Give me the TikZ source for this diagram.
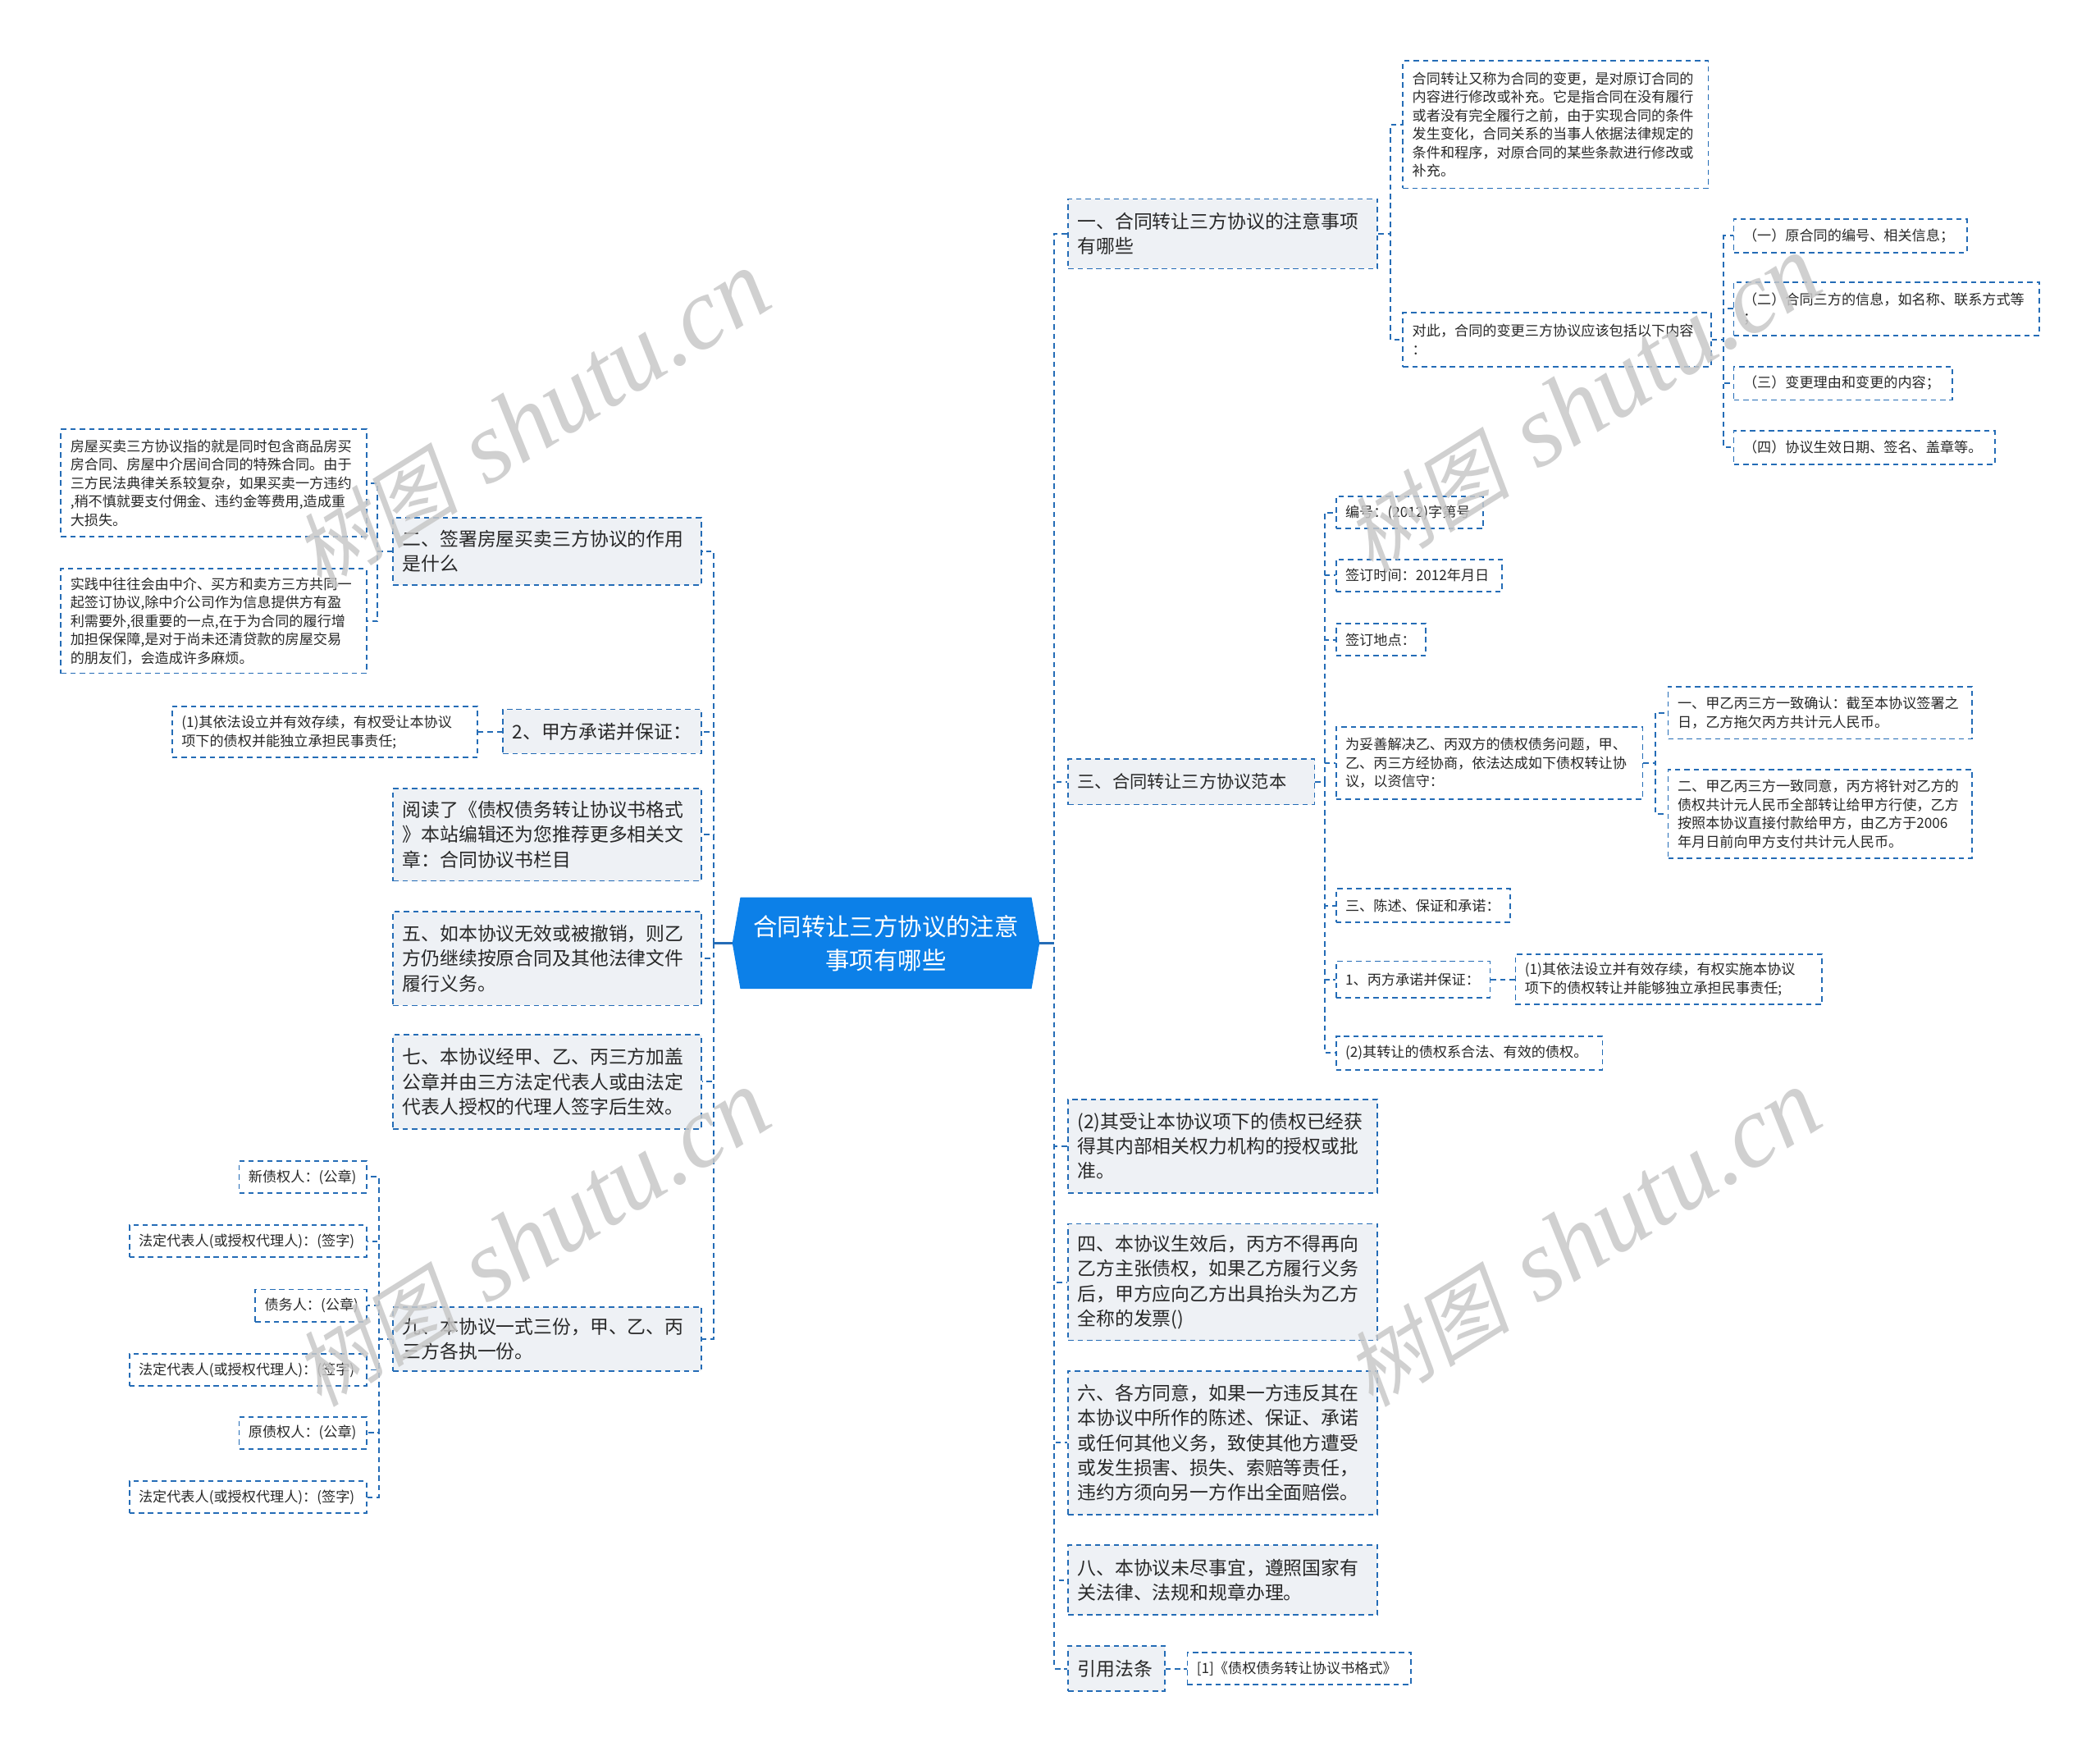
\documentclass[tikz,border=0pt]{standalone}
\usepackage{fontspec}
\newfontfamily\cjk{Noto Sans CJK SC}
\newfontfamily\cjkslant[FakeSlant=0.2]{Noto Sans CJK SC}
\newfontfamily\wmserif{Liberation Serif}
\usetikzlibrary{calc}
\definecolor{lineblue}{RGB}{36,108,182}
\definecolor{boxgray}{RGB}{238,241,245}
\definecolor{centerblue}{RGB}{12,128,232}
\definecolor{txt}{RGB}{40,40,40}
\definecolor{wm}{RGB}{200,200,200}
\newcommand\bx[7]{%
  \pgfmathsetmacro\tw{#5-14}%
  \node[#1, minimum width=#5pt, minimum height=#6pt, text width=\tw pt] (#2) at (#3,#4) {#7};}
\begin{document}
\begin{tikzpicture}[x=1pt,y=-1pt,
  conn/.style={draw=lineblue, line width=1.2pt, dash pattern=on 4pt off 3pt},
  stub/.style={draw=lineblue, line width=1.6pt},
  lvl/.style={draw=lineblue, line width=1.1pt, dash pattern=on 4pt off 3pt, fill=boxgray, text=txt,
    font=\cjk\fontsize{14}{18.6}\selectfont, inner xsep=7pt, inner ysep=0pt, align=left, anchor=north west},
  leaf/.style={lvl, fill=white, font=\cjk\fontsize{10.5}{13.8}\selectfont},
  wmk/.style={text=wm, opacity=0.85, rotate=32, inner sep=0pt}
]
\useasboundingbox (0,0) rectangle (1568,1307);
\fill[white] (0,0) rectangle (1568,1307);

% ---------- centre ----------
\node[minimum width=217pt, minimum height=68pt, inner sep=0pt] (C) at (661.5,704) {};
\coordinate (CL) at ($(C.west)+(-6,0)$);
\coordinate (CR) at ($(C.east)+(6,0)$);

% ---------- right side ----------
\bx{lvl}{R1}{797}{148}{231}{52}{一、合同转让三方协议的注意事项\\有哪些}
\bx{leaf}{R1a}{1047}{45}{228}{95}{合同转让又称为合同的变更，是对原订合同的\\内容进行修改或补充。它是指合同在没有履行\\或者没有完全履行之前，由于实现合同的条件\\发生变化，合同关系的当事人依据法律规定的\\条件和程序，对原合同的某些条款进行修改或\\补充。}
\bx{leaf}{R1b}{1047}{233}{230}{40}{对此，合同的变更三方协议应该包括以下内容\\：}
\bx{leaf}{R1b1}{1294}{163}{174}{25}{（一）原合同的编号、相关信息；}
\bx{leaf}{R1b2}{1294}{210}{228}{40}{（二）合同三方的信息，如名称、联系方式等\\；}
\bx{leaf}{R1b3}{1294}{273}{163}{25}{（三）变更理由和变更的内容；}
\bx{leaf}{R1b4}{1294}{321}{195}{25}{（四）协议生效日期、签名、盖章等。}

\bx{lvl,font=\cjk\fontsize{13}{18}\selectfont}{R2}{797}{566}{184}{34}{三、合同转让三方协议范本}
\bx{leaf}{R2a}{997}{370}{110}{24}{编号：(2012)字第号}
\bx{leaf}{R2b}{997}{417}{124}{24}{签订时间：2012年月日}
\bx{leaf}{R2c}{997}{465}{67}{24}{签订地点：}
\bx{leaf}{R2d}{997}{542}{229}{54}{为妥善解决乙、丙双方的债权债务问题，甲、\\乙、丙三方经协商，依法达成如下债权转让协\\议，以资信守：}
\bx{leaf}{R2d1}{1245}{512}{227}{39}{一、甲乙丙三方一致确认：截至本协议签署之\\日，乙方拖欠丙方共计元人民币。}
\bx{leaf}{R2d2}{1245}{574}{227}{66}{二、甲乙丙三方一致同意，丙方将针对乙方的\\债权共计元人民币全部转让给甲方行使，乙方\\按照本协议直接付款给甲方，由乙方于2006\\年月日前向甲方支付共计元人民币。}
\bx{leaf}{R2e}{997}{663}{130}{25}{三、陈述、保证和承诺：}
\bx{leaf}{R2f}{997}{717}{115}{27}{1、丙方承诺并保证：}
\bx{leaf}{R2f1}{1131}{712}{229}{37}{(1)其依法设立并有效存续，有权实施本协议\\项下的债权转让并能够独立承担民事责任;}
\bx{leaf}{R2g}{997}{773}{199}{25}{(2)其转让的债权系合法、有效的债权。}

\bx{lvl}{R3}{797}{820}{231}{70}{(2)其受让本协议项下的债权已经获\\得其内部相关权力机构的授权或批\\准。}
\bx{lvl}{R4}{797}{913}{231}{87}{四、本协议生效后，丙方不得再向\\乙方主张债权，如果乙方履行义务\\后，甲方应向乙方出具抬头为乙方\\全称的发票()}
\bx{lvl}{R5}{797}{1023}{231}{107}{六、各方同意，如果一方违反其在\\本协议中所作的陈述、保证、承诺\\或任何其他义务，致使其他方遭受\\或发生损害、损失、索赔等责任，\\违约方须向另一方作出全面赔偿。}
\bx{lvl}{R6}{797}{1153}{231}{52}{八、本协议未尽事宜，遵照国家有\\关法律、法规和规章办理。}
\bx{lvl}{R7}{797}{1228}{72}{34}{引用法条}
\bx{leaf}{R7a}{886}{1233}{167}{24}{[1]《债权债务转让协议书格式》}

% ---------- left side ----------
\bx{lvl}{L1}{293}{386}{230}{50}{二、签署房屋买卖三方协议的作用\\是什么}
\bx{leaf}{L1a}{45}{320}{228}{80}{房屋买卖三方协议指的就是同时包含商品房买\\房合同、房屋中介居间合同的特殊合同。由于\\三方民法典律关系较复杂，如果买卖一方违约\\,稍不慎就要支付佣金、违约金等费用,造成重\\大损失。}
\bx{leaf}{L1b}{45}{424}{228}{78}{实践中往往会由中介、买方和卖方三方共同一\\起签订协议,除中介公司作为信息提供方有盈\\利需要外,很重要的一点,在于为合同的履行增\\加担保保障,是对于尚未还清贷款的房屋交易\\的朋友们，会造成许多麻烦。}
\bx{lvl}{L2}{375}{529}{148}{33}{2、甲方承诺并保证：}
\bx{leaf}{L2a}{128}{527}{228}{38}{(1)其依法设立并有效存续，有权受让本协议\\项下的债权并能独立承担民事责任;}
\bx{lvl}{L3}{293}{588}{230}{69}{阅读了《债权债务转让协议书格式\\》本站编辑还为您推荐更多相关文\\章：合同协议书栏目}
\bx{lvl}{L4}{293}{680}{230}{70}{五、如本协议无效或被撤销，则乙\\方仍继续按原合同及其他法律文件\\履行义务。}
\bx{lvl}{L5}{293}{772}{230}{70}{七、本协议经甲、乙、丙三方加盖\\公章并由三方法定代表人或由法定\\代表人授权的代理人签字后生效。}
\bx{lvl}{L6}{293}{975}{230}{48}{九、本协议一式三份，甲、乙、丙\\三方各执一份。}
\bx{leaf}{L6a}{178}{866}{95}{24}{新债权人：(公章)}
\bx{leaf}{L6b}{96}{914}{177}{24}{法定代表人(或授权代理人)：(签字)}
\bx{leaf}{L6c}{190}{962}{83}{24}{债务人：(公章)}
\bx{leaf}{L6d}{96}{1010}{177}{24}{法定代表人(或授权代理人)：(签字)}
\bx{leaf}{L6e}{178}{1057}{95}{24}{原债权人：(公章)}
\bx{leaf}{L6f}{96}{1105}{177}{24}{法定代表人(或授权代理人)：(签字)}

% ---------- connectors ----------
\foreach \n in {R1,R2,R3,R4,R5,R6,R7} \draw[conn] (CR) -- ++(11,0) |- (\n.west);
\foreach \n in {L1,L2,L3,L4,L5,L6} \draw[conn] (CL) -- ++(-14,0) |- (\n.east);
\foreach \n in {R1a,R1b} \draw[conn] (R1.east) -- ++(9,0) |- (\n.west);
\foreach \n in {R1b1,R1b2,R1b3,R1b4} \draw[conn] (R1b.east) -- ++(9,0) |- (\n.west);
\foreach \n in {R2a,R2b,R2c,R2d,R2e,R2f,R2g} \draw[conn] (R2.east) -- ++(7,0) |- (\n.west);
\foreach \n in {R2d1,R2d2} \draw[conn] (R2d.east) -- ++(9,0) |- (\n.west);
\draw[conn] (R2f.east) -- (R2f1.west |- R2f.east);
\draw[conn] (R7.east) -- (R7a.west |- R7.east);
\foreach \n in {L1a,L1b} \draw[conn] (L1.west) -- ++(-11,0) |- (\n.east);
\draw[conn] (L2.west) -- (L2a.east |- L2.west);
\foreach \n in {L6a,L6b,L6c,L6d,L6e,L6f} \draw[conn] (L6.west) -- ++(-10,0) |- (\n.east);

% centre shape
\fill[centerblue] (C.north west) -- (C.north east) -- (CR) -- (C.south east)
  -- (C.south west) -- (CL) -- cycle;
\node[inner sep=0pt, text=white, align=center, font=\cjk\fontsize{18}{25}\selectfont] (Ct) at (C.center) {合同转让三方协议的注意\\事项有哪些};
\draw[stub] (CL) -- ++(-14,0);
\draw[stub] (CR) -- ++(11,0);

% ---------- watermarks ----------
\foreach \p/\k in {(397,314)/a,(397,925)/b,(1182,302)/c,(1182,925)/d}
  \node[wmk] (wm\k) at \p {\cjkslant\fontsize{62}{62}\selectfont 树图\hspace{22pt}\wmserif\itshape\fontsize{76}{76}\selectfont shutu.cn};
\end{tikzpicture}
\end{document}
